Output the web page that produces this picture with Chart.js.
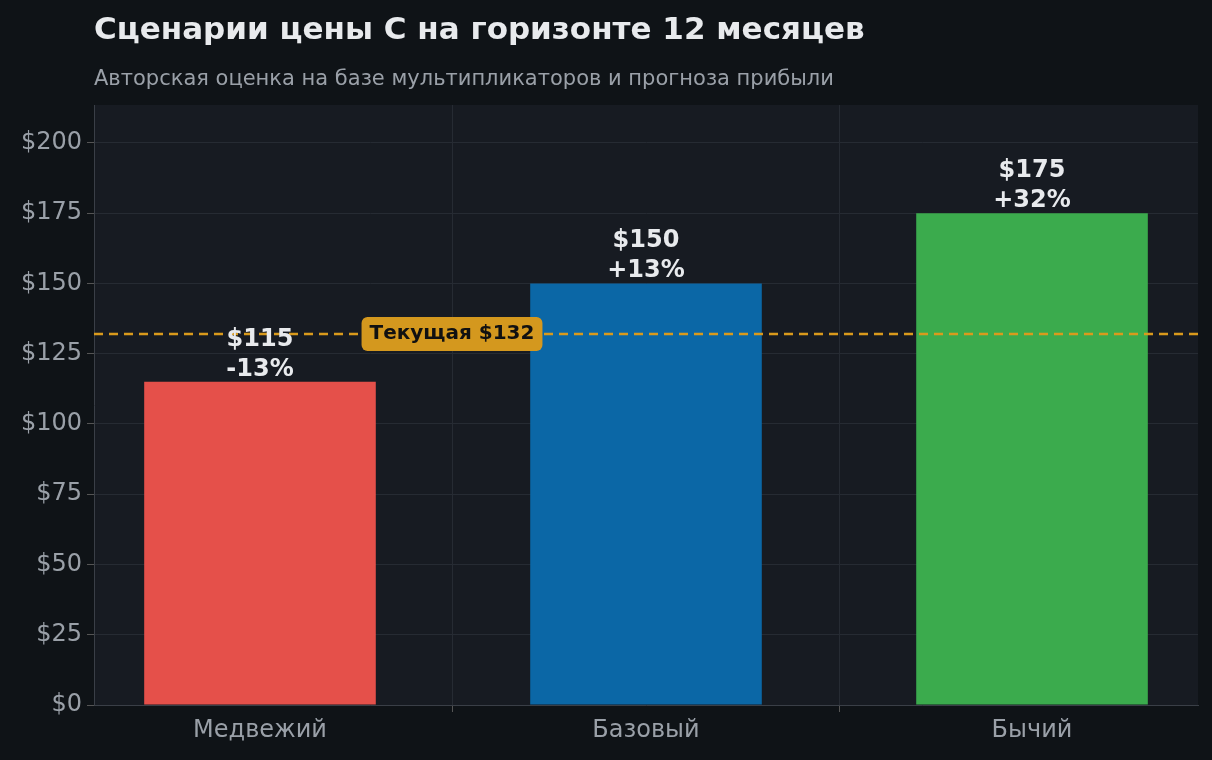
<!DOCTYPE html>
<html><head><meta charset="utf-8">
<script src="https://cdn.jsdelivr.net/npm/chart.js@4/dist/chart.umd.min.js"></script>
<style>html,body{margin:0;background:#0f1317;}canvas{display:block}</style>
</head><body>
<div style="width:1212px;height:760px"><canvas id="c"></canvas></div>
<script>
const categories=["Медвежий","Базовый","Бычий"];
const prices=[115,150,175];
const changes=["-13%","+13%","+32%"];
const currentPrice=132;
const colors=["#e5504a","#0b67a6","#3bab4d"];
const FONT="'DejaVu Sans', sans-serif";
const deco={id:'deco',
beforeDraw(c){const {ctx,chartArea:a}=c;ctx.save();ctx.fillStyle='#0f1317';ctx.fillRect(0,0,c.width,c.height);
ctx.fillStyle='#171b22';ctx.fillRect(a.left,a.top,a.right-a.left,a.bottom-a.top);ctx.restore();},
afterDatasetsDraw(c){const {ctx,chartArea:a}=c;const y=c.scales.y,x=c.scales.x;ctx.save();
const yy=y.getPixelForValue(currentPrice);
ctx.strokeStyle='#d99a1c';ctx.lineWidth=2.5;ctx.setLineDash([9,6]);ctx.beginPath();ctx.moveTo(a.left,yy);ctx.lineTo(a.right,yy);ctx.stroke();ctx.setLineDash([]);
ctx.font="bold 24px "+FONT;ctx.fillStyle='#e8eaed';ctx.textAlign='center';ctx.textBaseline='alphabetic';
prices.forEach((p,i)=>{const px=x.getPixelForValue(i),py=y.getPixelForValue(p);ctx.fillText('$'+p,px,py-36);ctx.fillText(changes[i],px,py-6);});
const lbl='Текущая $'+currentPrice;ctx.font="bold 20px "+FONT;const w=ctx.measureText(lbl).width+16;const cx=452;
ctx.fillStyle='#d4981e';ctx.beginPath();ctx.roundRect(cx-w/2,yy-17,w,34,6);ctx.fill();
ctx.fillStyle='#111';ctx.textBaseline='middle';ctx.fillText(lbl,cx,yy);
ctx.textAlign='left';ctx.textBaseline='alphabetic';ctx.fillStyle='#e8eaed';ctx.font="bold 31px "+FONT;
ctx.fillText('Сценарии цены C на горизонте 12 месяцев',94,39);
ctx.fillStyle='#9aa0a8';ctx.font="21px "+FONT;ctx.fillText('Авторская оценка на базе мультипликаторов и прогноза прибыли',94,85);
ctx.restore();}};
new Chart(document.getElementById('c'),{type:'bar',
data:{datasets:[{data:prices.map((p,i)=>({x:i,y:p})),backgroundColor:colors,categoryPercentage:1,barPercentage:0.6}]},
plugins:[deco],
options:{responsive:true,maintainAspectRatio:false,animation:false,
layout:{padding:{top:105,right:14,left:0,bottom:0}},
plugins:{legend:{display:false},tooltip:{enabled:false}},
scales:{
x:{type:'linear',min:-0.43,max:2.43,offset:false,afterFit(s){s.height=55;},afterBuildTicks(s){s.ticks=[0,1,2].map(v=>({value:v}));},
grid:{color:'#262b33',tickColor:'#555',tickLength:7},border:{color:'#3a3f47'},ticks:{color:'#9aa0a8',font:{size:24,family:FONT},padding:4,callback:v=>categories[v]}},
y:{min:0,max:213.5,afterFit(s){s.width=94;},afterBuildTicks(s){s.ticks=[0,25,50,75,100,125,150,175,200].map(v=>({value:v}));},
grid:{color:'#262b33',tickColor:'#555',tickLength:7},border:{color:'#3a3f47'},ticks:{color:'#9aa0a8',font:{size:24,family:FONT},padding:5,callback:v=>'$'+v}}}}});
</script></body></html>
